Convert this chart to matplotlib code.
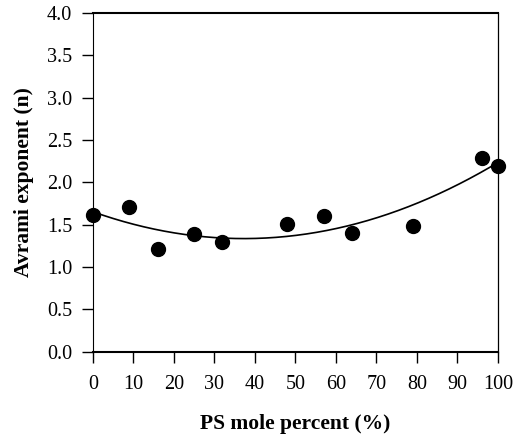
import numpy as np
import matplotlib
matplotlib.use("Agg")
import matplotlib.pyplot as plt

ps_mole_percent = [0, 9, 16, 25, 32, 48, 57, 64, 79, 96, 100]
avrami_n = [1.62, 1.71, 1.21, 1.39, 1.29, 1.51, 1.60, 1.40, 1.49, 2.29, 2.19]
x_ticks = [0, 10, 20, 30, 40, 50, 60, 70, 80, 90, 100]
y_ticks = [0.0, 0.5, 1.0, 1.5, 2.0, 2.5, 3.0, 3.5, 4.0]

plt.rcParams['font.family'] = ['Liberation Serif', 'DejaVu Serif']

fig = plt.figure(figsize=(5.16, 4.42), dpi=100)
ax = fig.add_axes([0.180, 0.204, 0.785, 0.767])

coef = np.polyfit(ps_mole_percent, avrami_n, 2)
xf = np.linspace(0, 100, 200)
ax.plot(xf, np.polyval(coef, xf), color='black', lw=1.2, zorder=2)
ax.plot(ps_mole_percent, avrami_n, 'o', color='black', ms=10, zorder=3, clip_on=False)

ax.set_xlim(0, 100)
ax.set_ylim(0, 4)
ax.set_xticks(x_ticks)
ax.set_yticks(y_ticks)
ax.set_yticklabels([f"{v:.1f}" for v in y_ticks])
ax.tick_params(axis='both', direction='out', length=8, width=1.0, labelsize=14.5, color='black')
ax.tick_params(axis='x', pad=9)
ax.tick_params(axis='y', pad=7)

ax.spines['left'].set_linewidth(0.8)
ax.spines['right'].set_linewidth(0.9)
ax.spines['top'].set_linewidth(1.5)
ax.spines['bottom'].set_linewidth(1.5)

ax.set_xlabel('PS mole percent (%)', fontsize=15.5, fontweight='bold', labelpad=14)
ax.set_ylabel('Avrami exponent (n)', fontsize=15.5, fontweight='bold', labelpad=9)

fig.savefig('out.png', dpi=100)
